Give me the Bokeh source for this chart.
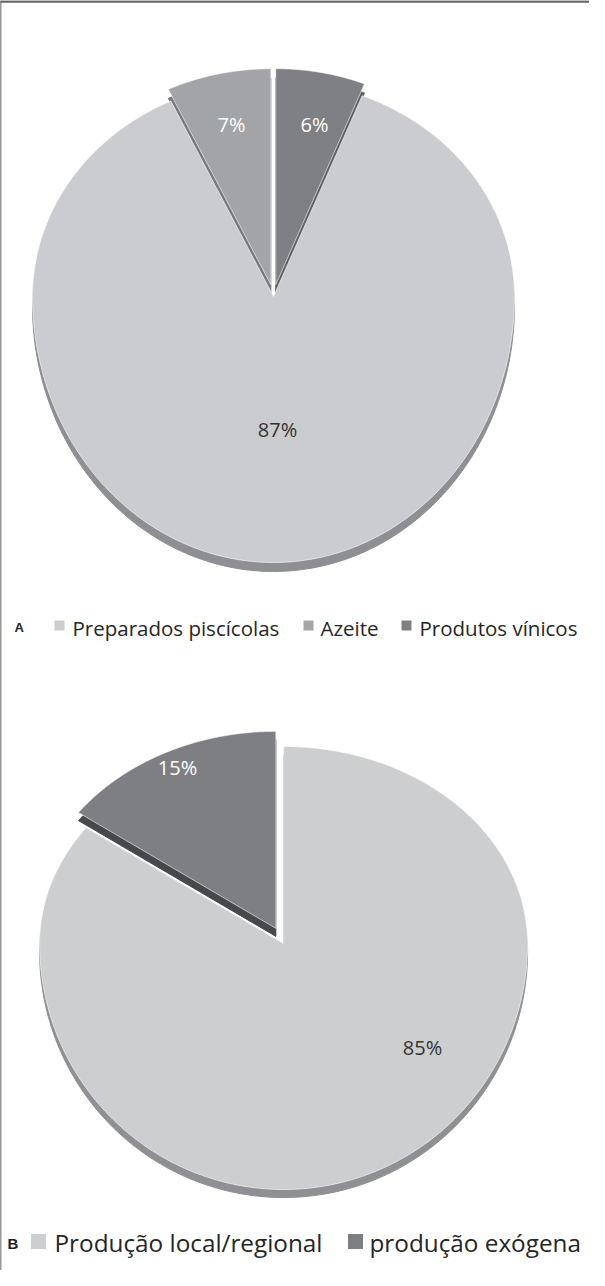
import numpy as np
from bokeh.plotting import figure
from bokeh.models import Range1d
from bokeh.core.properties import value
from bokeh.embed import file_html
from bokeh.resources import INLINE

# ---- data ----
cats_a = ["Preparados piscícolas", "Azeite", "Produtos vínicos"]
vals_a = [87, 7, 6]
cats_b = ["Produção local/regional", "produção exógena"]
vals_b = [85, 15]

cols_a = ["#cbcccf", "#a3a4a7", "#7f8083"]
side_a = ["#8e8f92", "#77787b", "#5e5f62"]
cols_b = ["#cdcecf", "#7e7f83"]
side_b = ["#8f9093", "#47484b"]

W, H = 589, 1270
p = figure(width=W, height=H, x_range=Range1d(8, 8 + W), y_range=Range1d(8 + H, 8),
           output_backend="svg", toolbar_location=None, min_border=0)
p.axis.visible = False
p.grid.visible = False
p.outline_line_color = None
p.background_fill_color = "white"
p.border_fill_color = "white"

FONT = "Open Sans"


def slice_poly(cx, cy, rx, rt, rb, a0, a1, n=240):
    th = np.linspace(a0, a1, n)
    s = np.sin(th)
    xs = cx + rx * np.cos(th)
    ys = cy - np.where(s > 0, rt, rb) * s
    return [cx] + list(xs) + [cx], [cy] + list(ys) + [cy]


def draw_pie(vals, cols, sides, order, cx, cy, rx, rt, rb, depth, explode):
    total = float(sum(vals))
    fr = [v / total for v in vals]
    polys = []
    cum = 0.0
    for i in order:  # clockwise from 12 o'clock
        a_start = np.pi / 2 - 2 * np.pi * cum
        a_end = np.pi / 2 - 2 * np.pi * (cum + fr[i])
        cum += fr[i]
        mid = (a_start + a_end) / 2
        ex = explode[i]
        ox = ex * np.cos(mid)
        oy = -ex * np.sin(mid)
        xs, ys = slice_poly(cx + ox, cy + oy, rx, rt, rb, a_end, a_start)
        polys.append((i, xs, ys))
    for i, xs, ys in polys:
        p.patch(xs, [y + depth for y in ys], fill_color=sides[i], line_color=sides[i], line_width=1)
    for i, xs, ys in polys:
        p.patch(xs, ys, fill_color=cols[i], line_color="#ffffff", line_width=1, line_alpha=0.6)


# pie A
draw_pie(vals_a, cols_a, side_a, [2, 0, 1], 281, 304, 241, 216, 266, 9, [0, 12, 12])
# pie B
draw_pie(vals_b, cols_b, side_b, [0, 1], 287, 943, 244, 197, 246, 8, [9, 8])

# percent labels
lab_a = [f"{v}%" for v in vals_a]
p.text(x=[285, 239, 322], y=[437, 132, 132], text=lab_a, text_font=value(FONT), text_font_size="20px",
       text_color=["#333333", "#ffffff", "#ffffff"], text_align="center", text_baseline="middle")
lab_b = [f"{v}%" for v in vals_b]
p.text(x=[430, 185], y=[1055, 775], text=lab_b, text_font=value(FONT), text_font_size="20px",
       text_color=["#333333", "#ffffff"], text_align="center", text_baseline="middle")

# frame lines
p.line(x=[8, 597], y=[9, 9], line_color="#666666", line_width=2.5)
p.line(x=[8, 8], y=[8, 1278], line_color="#333333", line_width=1.5)

# legend A
p.text(x=[22], y=[635], text=["A"], text_font=value("Liberation Sans"), text_font_style="bold",
       text_font_size="13px", text_color="#222222", text_baseline="middle")
sw_a_x = [67, 316, 414]
tx_a_x = [80, 328, 427]
p.rect(x=sw_a_x, y=[633, 633, 633], width=10, height=10, width_units="screen", height_units="screen",
       fill_color=cols_a, line_color=None)
p.text(x=tx_a_x, y=[635, 635, 635], text=cats_a, text_font=value(FONT), text_font_size="20.5px",
       text_color="#262626", text_baseline="middle")

# legend B
p.text(x=[15], y=[1251], text=["B"], text_font=value("Liberation Sans"), text_font_style="bold",
       text_font_size="15px", text_color="#222222", text_baseline="middle")
p.rect(x=[46, 363], y=[1249, 1249], width=15, height=15, width_units="screen", height_units="screen",
       fill_color=cols_b, line_color=None)
p.text(x=[62, 377], y=[1250, 1250], text=cats_b, text_font=value(FONT), text_font_size="24.3px",
       text_color="#262626", text_baseline="middle")

open("out.html", "w").write(file_html(p, INLINE))
